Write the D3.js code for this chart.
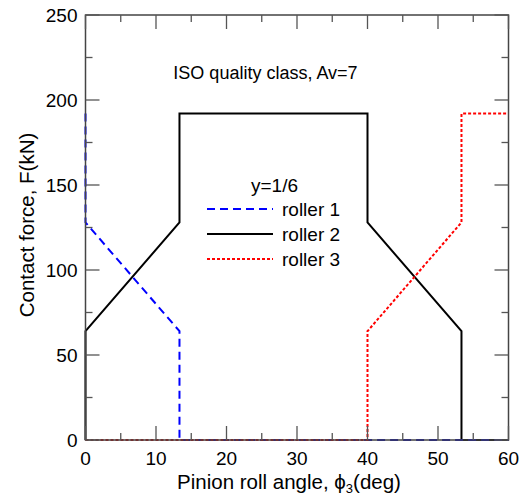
<!DOCTYPE html>
<html><head><meta charset="utf-8">
<script src="https://cdn.jsdelivr.net/npm/d3@7"></script>
<style>body{margin:0;background:#fff}text{font-family:"Liberation Sans",Arial,sans-serif;fill:#000}</style>
</head><body><svg id="c" width="528" height="498"></svg>
<script>
const xTicks = [0,10,20,30,40,50,60];
const yTicks = [0,50,100,150,200,250];
const seriesNames = ["roller 1","roller 2","roller 3"];
const roller1X = [0,0,13.33,13.33,60];
const roller1Y = [192,128,64,0,0];
const roller2X = [0,0,13.33,13.33,40,40,53.33,53.33,60];
const roller2Y = [0,64,128,192,192,128,64,0,0];
const roller3X = [0,40,40,53.33,53.33,60];
const roller3Y = [0,0,64,128,192,192];

const svg = d3.select("#c");
const L=85.5, R=508.5, T=15, B=440;
const x = d3.scaleLinear().domain([0,60]).range([L,R]);
const y = d3.scaleLinear().domain([0,250]).range([B,T]);

const series = [
  {name:seriesNames[0], xs:roller1X, ys:roller1Y, color:"#0000ff", dash:"8,5"},
  {name:seriesNames[1], xs:roller2X, ys:roller2Y, color:"#000", dash:null},
  {name:seriesNames[2], xs:roller3X, ys:roller3Y, color:"#ff0000", dash:"3,2"}
];
const line = d3.line().x(d=>x(d[0])).y(d=>y(d[1]));
[series[1], series[0], series[2]].forEach(s=>{
  svg.append("path").attr("d", line(s.xs.map((v,i)=>[v,s.ys[i]])))
    .attr("fill","none").attr("stroke",s.color).attr("stroke-width",2)
    .attr("stroke-dasharray",s.dash);
});

svg.append("rect").attr("x",L).attr("y",T).attr("width",R-L).attr("height",B-T)
  .attr("fill","none").attr("stroke","#444").attr("stroke-width",1.5);

const tc="#555";
const xMinor = d3.range(5,60,10);
xTicks.forEach(v=>{
  svg.append("line").attr("x1",x(v)).attr("x2",x(v)).attr("y1",B).attr("y2",B-14).attr("stroke",tc).attr("stroke-width",1.3);
  svg.append("line").attr("x1",x(v)).attr("x2",x(v)).attr("y1",T).attr("y2",T+14).attr("stroke",tc).attr("stroke-width",1.3);
  svg.append("text").attr("x",x(v)).attr("y",B+25).attr("text-anchor","middle").attr("font-size",19).text(v);
});
xMinor.forEach(v=>{
  svg.append("line").attr("x1",x(v)).attr("x2",x(v)).attr("y1",B).attr("y2",B-7).attr("stroke",tc).attr("stroke-width",1.3);
  svg.append("line").attr("x1",x(v)).attr("x2",x(v)).attr("y1",T).attr("y2",T+7).attr("stroke",tc).attr("stroke-width",1.3);
});
const yMinor = d3.range(25,250,50);
yTicks.forEach(v=>{
  svg.append("line").attr("x1",L).attr("x2",L+14).attr("y1",y(v)).attr("y2",y(v)).attr("stroke",tc).attr("stroke-width",1.3);
  svg.append("line").attr("x1",R).attr("x2",R-14).attr("y1",y(v)).attr("y2",y(v)).attr("stroke",tc).attr("stroke-width",1.3);
  svg.append("text").attr("x",L-8).attr("y",y(v)+7).attr("text-anchor","end").attr("font-size",19).text(v);
});
yMinor.forEach(v=>{
  svg.append("line").attr("x1",L).attr("x2",L+7).attr("y1",y(v)).attr("y2",y(v)).attr("stroke",tc).attr("stroke-width",1.3);
  svg.append("line").attr("x1",R).attr("x2",R-7).attr("y1",y(v)).attr("y2",y(v)).attr("stroke",tc).attr("stroke-width",1.3);
});

svg.append("text").attr("transform","translate(34,225) rotate(-90)").attr("text-anchor","middle")
  .attr("font-size",20.5).text("Contact force, F(kN)");
const xl = svg.append("text").attr("x",289).attr("y",489).attr("text-anchor","middle").attr("font-size",20.5);
xl.append("tspan").text("Pinion roll angle, ");
xl.append("tspan").text("\u03d5");
xl.append("tspan").attr("font-size",13).attr("dy",4).text("3");
xl.append("tspan").attr("dy",-4).text("(deg)");

svg.append("text").attr("x",265.5).attr("y",79).attr("text-anchor","middle").attr("font-size",18)
  .text("ISO quality class, Av=7");

svg.append("text").attr("x",274.5).attr("y",192).attr("text-anchor","middle").attr("font-size",19).text("y=1/6");
const ly=[209,234,259];
series.forEach((s,i)=>{
  svg.append("line").attr("x1",207).attr("x2",273).attr("y1",ly[i]).attr("y2",ly[i])
    .attr("stroke",s.color).attr("stroke-width",2).attr("stroke-dasharray",s.dash);
  svg.append("text").attr("x",282).attr("y",ly[i]+7).attr("font-size",19).text(s.name);
});
</script></body></html>
